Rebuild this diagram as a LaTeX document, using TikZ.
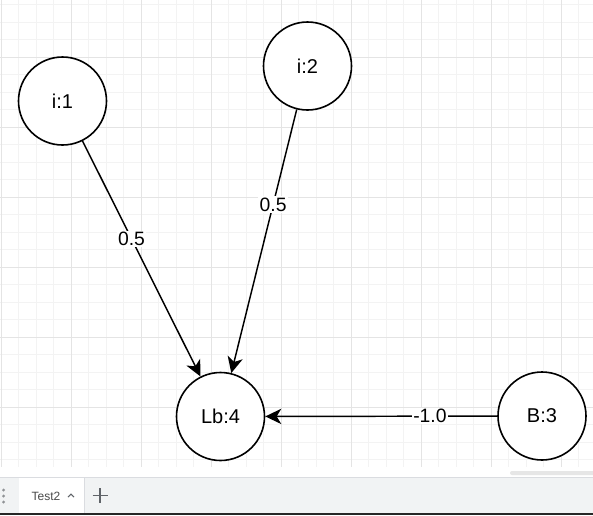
\documentclass[tikz,border=0pt]{standalone}
\usepackage{fontspec}
\setmainfont{Liberation Sans}
\usetikzlibrary{arrows.meta}
\definecolor{gridfine}{HTML}{F3F3F3}
\definecolor{gridbold}{HTML}{E4E4E4}
\definecolor{barbg}{HTML}{F1F3F4}
\definecolor{sepline}{HTML}{DADCE0}
\definecolor{tabtext}{HTML}{4A4A4A}
\definecolor{icongray}{HTML}{5F6368}
\definecolor{scrollgray}{HTML}{E6E6E6}
\tikzset{
  vertex/.style={circle, draw=black, line width=1.2pt, fill=white,
    minimum size=66pt, inner sep=0pt, font=\fontsize{15}{18}\selectfont},
  edge/.style={draw=black, line width=1.1pt,
    -{Stealth[length=12pt, width=11.5pt, inset=3.5pt]}},
  elabel/.style={fill=white, inner sep=1pt, font=\fontsize{14.5}{17}\selectfont},
  fineline/.style={draw=gridfine, line width=0.75pt},
  boldline/.style={draw=gridbold, line width=0.75pt},
}
\begin{document}
\begin{tikzpicture}[x=0.75pt, y=-0.75pt]
\useasboundingbox (0,0) rectangle (593,515);
% canvas and grid
\fill[white] (0,0) rectangle (593,478);
\foreach \k in {0,...,33} \draw[fineline] ({1+17.51*\k},0) -- ++(0,467);
\foreach \k in {0,...,26} \draw[fineline] (0,{4.8+17.5*\k}) -- ++(593,0);
\foreach \k in {0,...,8} \draw[boldline] ({1+70.04*\k},0) -- ++(0,467);
\foreach \k in {0,...,5} \draw[boldline] (0,{57.3+70*\k}) -- ++(593,0);

% vertices
\node[vertex] (i1) at (62.5,101) {i:1};
\node[vertex] (i2) at (307.5,66) {i:2};
\node[vertex] (lb4) at (220.5,416.5) {Lb:4};
\node[vertex] (b3) at (542,416) {B:3};

% weighted connections
\draw[edge] (i1) -- node[elabel, pos=0.415] {0.5} (lb4);
\draw[edge] (i2) -- node[elabel, pos=0.36] {0.5} (lb4);
\draw[edge] (b3) -- node[elabel, pos=0.29] {-1.0} (lb4);

% horizontal scrollbar
\fill[scrollgray, rounded corners=1.5pt] (510,471) rectangle (596,475);

% page tab bar
\fill[barbg] (0,478) rectangle (593,513);
\draw[sepline, line width=0.75pt] (0,477.5) -- (593,477.5);
\fill[white] (19,478) rectangle (84,513);
\draw[sepline, line width=0.75pt] (84,478) -- (84,513);
\fill[black!85] (0,513) rectangle (593,515);
\foreach \yy in {490,496,502} \fill[icongray!70] (3.6,\yy) circle (1.6);
\node[text=tabtext, font=\fontsize{9}{11}\selectfont, inner sep=0pt] (tabname) at (46,496.5) {Test2};
\draw[icongray, line width=0.8pt] (68,497) -- (71,494) -- (74,497);
\draw[icongray, line width=1.1pt] (92.5,495.5) -- (107.5,495.5);
\draw[icongray, line width=1.1pt] (100,488) -- (100,503);
\end{tikzpicture}
\end{document}
